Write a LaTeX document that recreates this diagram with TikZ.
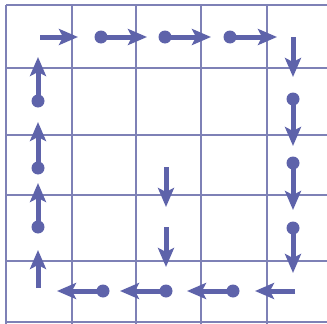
\documentclass[tikz,border=0pt]{standalone}
\usetikzlibrary{arrows.meta}
\definecolor{gridc}{HTML}{7E81B6}
\definecolor{arrc}{HTML}{5E63AA}
\begin{document}
\begin{tikzpicture}[x=1pt,y=-1pt,
  gridline/.style={gridc,line width=1.8pt},
  dot/.style={circle,fill=arrc,inner sep=0pt,minimum size=13pt},
  arr/.style={arrc,line width=5pt,-{Stealth[length=19pt,width=16pt,inset=4pt]}}]
\useasboundingbox (0,0) rectangle (327,324);
\fill[white] (0,0) rectangle (327,324);
% grid
\foreach \x in {6,72,136,201,267} \draw[gridline] (\x,5) -- (\x,324);
\foreach \y in {5,68,135,195,261,322} \draw[gridline] (6,\y) -- (327,\y);
% top row
\coordinate (t0) at (40,37); \coordinate (t0e) at (78,37);
\node[dot] (t1) at (101,37) {}; \coordinate (t1e) at (147,37);
\node[dot] (t2) at (165,37) {}; \coordinate (t2e) at (211,37);
\node[dot] (t3) at (230,37) {}; \coordinate (t3e) at (277,37);
\draw[arr] (t0) -- (t0e);
\draw[arr] (t1.center) -- (t1e);
\draw[arr] (t2.center) -- (t2e);
\draw[arr] (t3.center) -- (t3e);
% right column
\coordinate (r0) at (293,37); \coordinate (r0e) at (293,77);
\node[dot] (r1) at (293,99) {}; \coordinate (r1e) at (293,146);
\node[dot] (r2) at (293,163) {}; \coordinate (r2e) at (293,210);
\node[dot] (r3) at (293,228) {}; \coordinate (r3e) at (293,273);
\draw[arr] (r0) -- (r0e);
\draw[arr] (r1.center) -- (r1e);
\draw[arr] (r2.center) -- (r2e);
\draw[arr] (r3.center) -- (r3e);
% bottom row
\coordinate (b0) at (295,291); \coordinate (b0e) at (255,291);
\node[dot] (b1) at (233,291) {}; \coordinate (b1e) at (187,291);
\node[dot] (b2) at (166,291) {}; \coordinate (b2e) at (120,291);
\node[dot] (b3) at (103,291) {}; \coordinate (b3e) at (57,291);
\draw[arr] (b0) -- (b0e);
\draw[arr] (b1.center) -- (b1e);
\draw[arr] (b2.center) -- (b2e);
\draw[arr] (b3.center) -- (b3e);
% left column
\coordinate (l0) at (38,288); \coordinate (l0e) at (38,250);
\node[dot] (l1) at (38,227) {}; \coordinate (l1e) at (38,183);
\node[dot] (l2) at (38,168) {}; \coordinate (l2e) at (38,122);
\node[dot] (l3) at (38,101) {}; \coordinate (l3e) at (38,57);
\draw[arr] (l0) -- (l0e);
\draw[arr] (l1.center) -- (l1e);
\draw[arr] (l2.center) -- (l2e);
\draw[arr] (l3.center) -- (l3e);
% middle column
\coordinate (m0) at (166,167); \coordinate (m0e) at (166,207);
\coordinate (m1) at (166,227); \coordinate (m1e) at (166,267);
\draw[arr] (m0) -- (m0e);
\draw[arr] (m1) -- (m1e);
\end{tikzpicture}
\end{document}
